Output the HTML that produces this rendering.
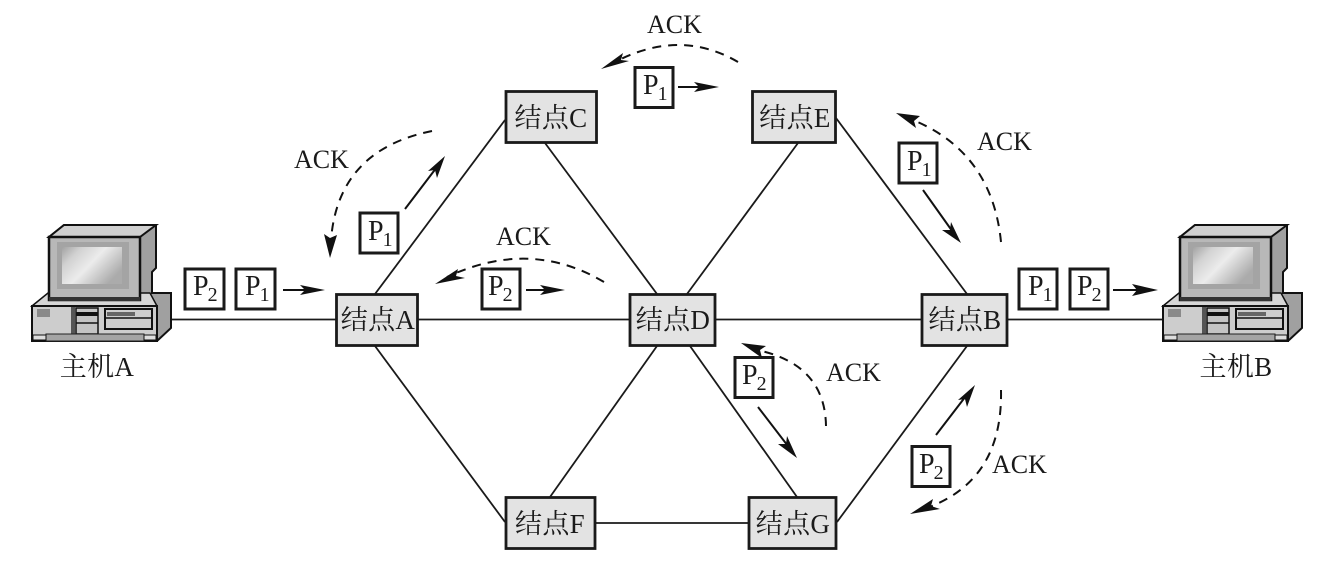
<!DOCTYPE html>
<html lang="zh">
<head>
<meta charset="utf-8">
<style>
html,body{margin:0;padding:0;background:#fff;width:1325px;height:576px;overflow:hidden}
svg{display:block;filter:blur(0.35px)}
text{font-family:"Liberation Serif","Noto Serif CJK SC",serif;fill:#1a1a1a}
.n{font-size:27px;text-anchor:middle;letter-spacing:0.3px}
.a{font-size:26px}
.p{font-size:28px}
.s{font-size:20px}
</style>
</head>
<body>
<svg width="1325" height="576" viewBox="0 0 1325 576" xmlns="http://www.w3.org/2000/svg">
<defs>
<linearGradient id="scr" x1="0" y1="0" x2="1" y2="0.6">
<stop offset="0" stop-color="#a2a2a2"/><stop offset="0.25" stop-color="#d2d2d2"/><stop offset="0.55" stop-color="#ececec"/><stop offset="1" stop-color="#ababab"/>
</linearGradient>
<g id="pc">
<polygon points="49,237 64,225 156,225 156,268 152,272 152,293 171,293 171,328 157,341 140,341 140,237" fill="#a0a0a0" stroke="#111" stroke-width="2"/>
<polygon points="49,237 64,225 156,225 140,237" fill="#d0d0d0" stroke="#111" stroke-width="2"/>
<polygon points="32,306 48,293 150,293 157,306" fill="#d6d6d6" stroke="#111" stroke-width="1.5"/>
<rect x="32" y="306" width="125" height="35" fill="#cdcdcd" stroke="#111" stroke-width="2"/>
<rect x="49" y="237" width="91" height="63" fill="#b8b8b8" stroke="#111" stroke-width="2.5"/>
<rect x="57" y="242" width="72" height="47" fill="#a4a4a4"/>
<rect x="62" y="247" width="60" height="37" fill="url(#scr)"/>
<rect x="49" y="297" width="91" height="4" fill="#333"/>
<rect x="37" y="309" width="13" height="8" fill="#8a8a8a"/>
<rect x="71" y="307" width="4" height="29" fill="#555"/>
<rect x="76" y="308" width="22" height="26" fill="#c4c4c4" stroke="#111" stroke-width="1.5"/>
<rect x="76" y="312" width="22" height="4" fill="#111"/>
<line x1="76" y1="323" x2="98" y2="323" stroke="#111" stroke-width="1.5"/>
<rect x="105" y="309" width="47" height="20" fill="#cdcdcd" stroke="#111" stroke-width="2"/>
<rect x="107" y="312" width="28" height="4" fill="#666"/>
<line x1="105" y1="318" x2="152" y2="318" stroke="#111" stroke-width="1.5"/>
<rect x="46" y="334" width="98" height="7" fill="#a4a4a4" stroke="#222"/>
<rect x="33" y="335" width="13" height="5" fill="#ddd" stroke="#111"/>
<rect x="144" y="335" width="12" height="5" fill="#ddd" stroke="#111"/>
</g>
</defs>

<g stroke="#1a1a1a" stroke-width="1.8" fill="none">
<line x1="170" y1="319.5" x2="1165" y2="319.5"/>
<line x1="375" y1="294" x2="505" y2="120"/>
<line x1="545" y1="143" x2="657" y2="294"/>
<line x1="687" y1="294" x2="798" y2="143"/>
<line x1="836" y1="118" x2="967" y2="294"/>
<line x1="375" y1="346" x2="505" y2="522"/>
<line x1="657" y1="346" x2="550" y2="497"/>
<line x1="690" y1="346" x2="797" y2="497"/>
<line x1="967" y1="346" x2="837" y2="522"/>
<line x1="595" y1="523" x2="748" y2="523"/>
</g>

<use href="#pc"/>
<use href="#pc" x="1131"/>

<g fill="#e3e3e3" stroke="#1a1a1a" stroke-width="2.8">
<rect x="336.5" y="294.5" width="81" height="51"/>
<rect x="506" y="91.5" width="90.500" height="51"/>
<rect x="630" y="294.500" width="85" height="51"/>
<rect x="752.500" y="91.500" width="83" height="51"/>
<rect x="922" y="294.500" width="85" height="51"/>
<rect x="506" y="497.500" width="89" height="51"/>
<rect x="749" y="497.500" width="87" height="51"/>
</g>

<text class="n" x="378" y="329">结点A</text>
<text class="n" x="551" y="127">结点C</text>
<text class="n" x="673" y="329">结点D</text>
<text class="n" x="795" y="127">结点E</text>
<text class="n" x="965" y="329">结点B</text>
<text class="n" x="550" y="533">结点F</text>
<text class="n" x="793" y="533">结点G</text>
<text class="n" x="97" y="376">主机A</text>
<text class="n" x="1236" y="376">主机B</text>

<g fill="#fff" stroke="#1a1a1a" stroke-width="3">
<rect x="185" y="269" width="39" height="40"/>
<rect x="236" y="269" width="39" height="40"/>
<rect x="360" y="213" width="38" height="40"/>
<rect x="635" y="67.500" width="38" height="40"/>
<rect x="482" y="269" width="38" height="40"/>
<rect x="899" y="143" width="38" height="40"/>
<rect x="1019" y="269" width="38" height="40"/>
<rect x="1070" y="269" width="38" height="40"/>
<rect x="735" y="357.500" width="38" height="40"/>
<rect x="912" y="446.500" width="38" height="40"/>
</g>

<text class="p" x="193" y="295">P<tspan class="s" dx="-1" dy="6">2</tspan></text>
<text class="p" x="245" y="295">P<tspan class="s" dx="-1" dy="6">1</tspan></text>
<text class="p" x="368" y="240">P<tspan class="s" dx="-1" dy="6">1</tspan></text>
<text class="p" x="643" y="94">P<tspan class="s" dx="-1" dy="6">1</tspan></text>
<text class="p" x="488" y="295">P<tspan class="s" dx="-1" dy="6">2</tspan></text>
<text class="p" x="907" y="170">P<tspan class="s" dx="-1" dy="6">1</tspan></text>
<text class="p" x="1028" y="295">P<tspan class="s" dx="-1" dy="6">1</tspan></text>
<text class="p" x="1077" y="295">P<tspan class="s" dx="-1" dy="6">2</tspan></text>
<text class="p" x="742" y="384">P<tspan class="s" dx="-1" dy="6">2</tspan></text>
<text class="p" x="919" y="473">P<tspan class="s" dx="-1" dy="6">2</tspan></text>

<text class="a" x="294" y="168">ACK</text>
<text class="a" x="647" y="33">ACK</text>
<text class="a" x="496" y="245">ACK</text>
<text class="a" x="977" y="150">ACK</text>
<text class="a" x="826" y="381">ACK</text>
<text class="a" x="992" y="473">ACK</text>

<g stroke="#111" stroke-width="2" fill="none">
<line x1="283" y1="290" x2="316" y2="290"/>
<line x1="405" y1="209" x2="440" y2="163"/>
<line x1="678" y1="87" x2="710" y2="87"/>
<line x1="526" y1="290" x2="556" y2="290"/>
<line x1="923" y1="190" x2="955" y2="235"/>
<line x1="1113" y1="290" x2="1149" y2="290"/>
<line x1="758" y1="407" x2="791" y2="450"/>
<line x1="936" y1="435" x2="969" y2="392"/>
</g>
<g stroke="#111" stroke-width="2" fill="none" stroke-dasharray="9 7">
<path d="M432,131 Q338,150 331,240"/>
<path d="M738,62 Q680,28 615,62"/>
<path d="M604,282 Q530,238 447,277"/>
<path d="M1001,242 Q992,150 908,118"/>
<path d="M826,426 Q825,362 752,349"/>
<path d="M1001,390 Q1003,482 924,509"/>
</g>
<g fill="#111">
<polygon points="325,290 300,285 305,290 300,295"/>
<polygon points="445,156 437,178 435,170 428,171"/>
<polygon points="719,87 694,82 699,87 694,92"/>
<polygon points="565,290 540,285 545,290 540,295"/>
<polygon points="961,243 942,230 950,230 951,222"/>
<polygon points="1158,290 1132,284 1137,290 1132,296"/>
<polygon points="797,458 778,444 786,444 787,436"/>
<polygon points="975,385 967,407 965,399 958,400"/>
<polygon points="330,258 324,234 330,238 337,235"/>
<polygon points="601,69 623,53 621,60 629,61"/>
<polygon points="435,284 458,269 456,276 465,278"/>
<polygon points="896,113 920,116 914,121 916,128"/>
<polygon points="741,343 766,346 760,350 762,358"/>
<polygon points="910,514 933,499 931,506 940,509"/>
</g>
</svg>
</body>
</html>
